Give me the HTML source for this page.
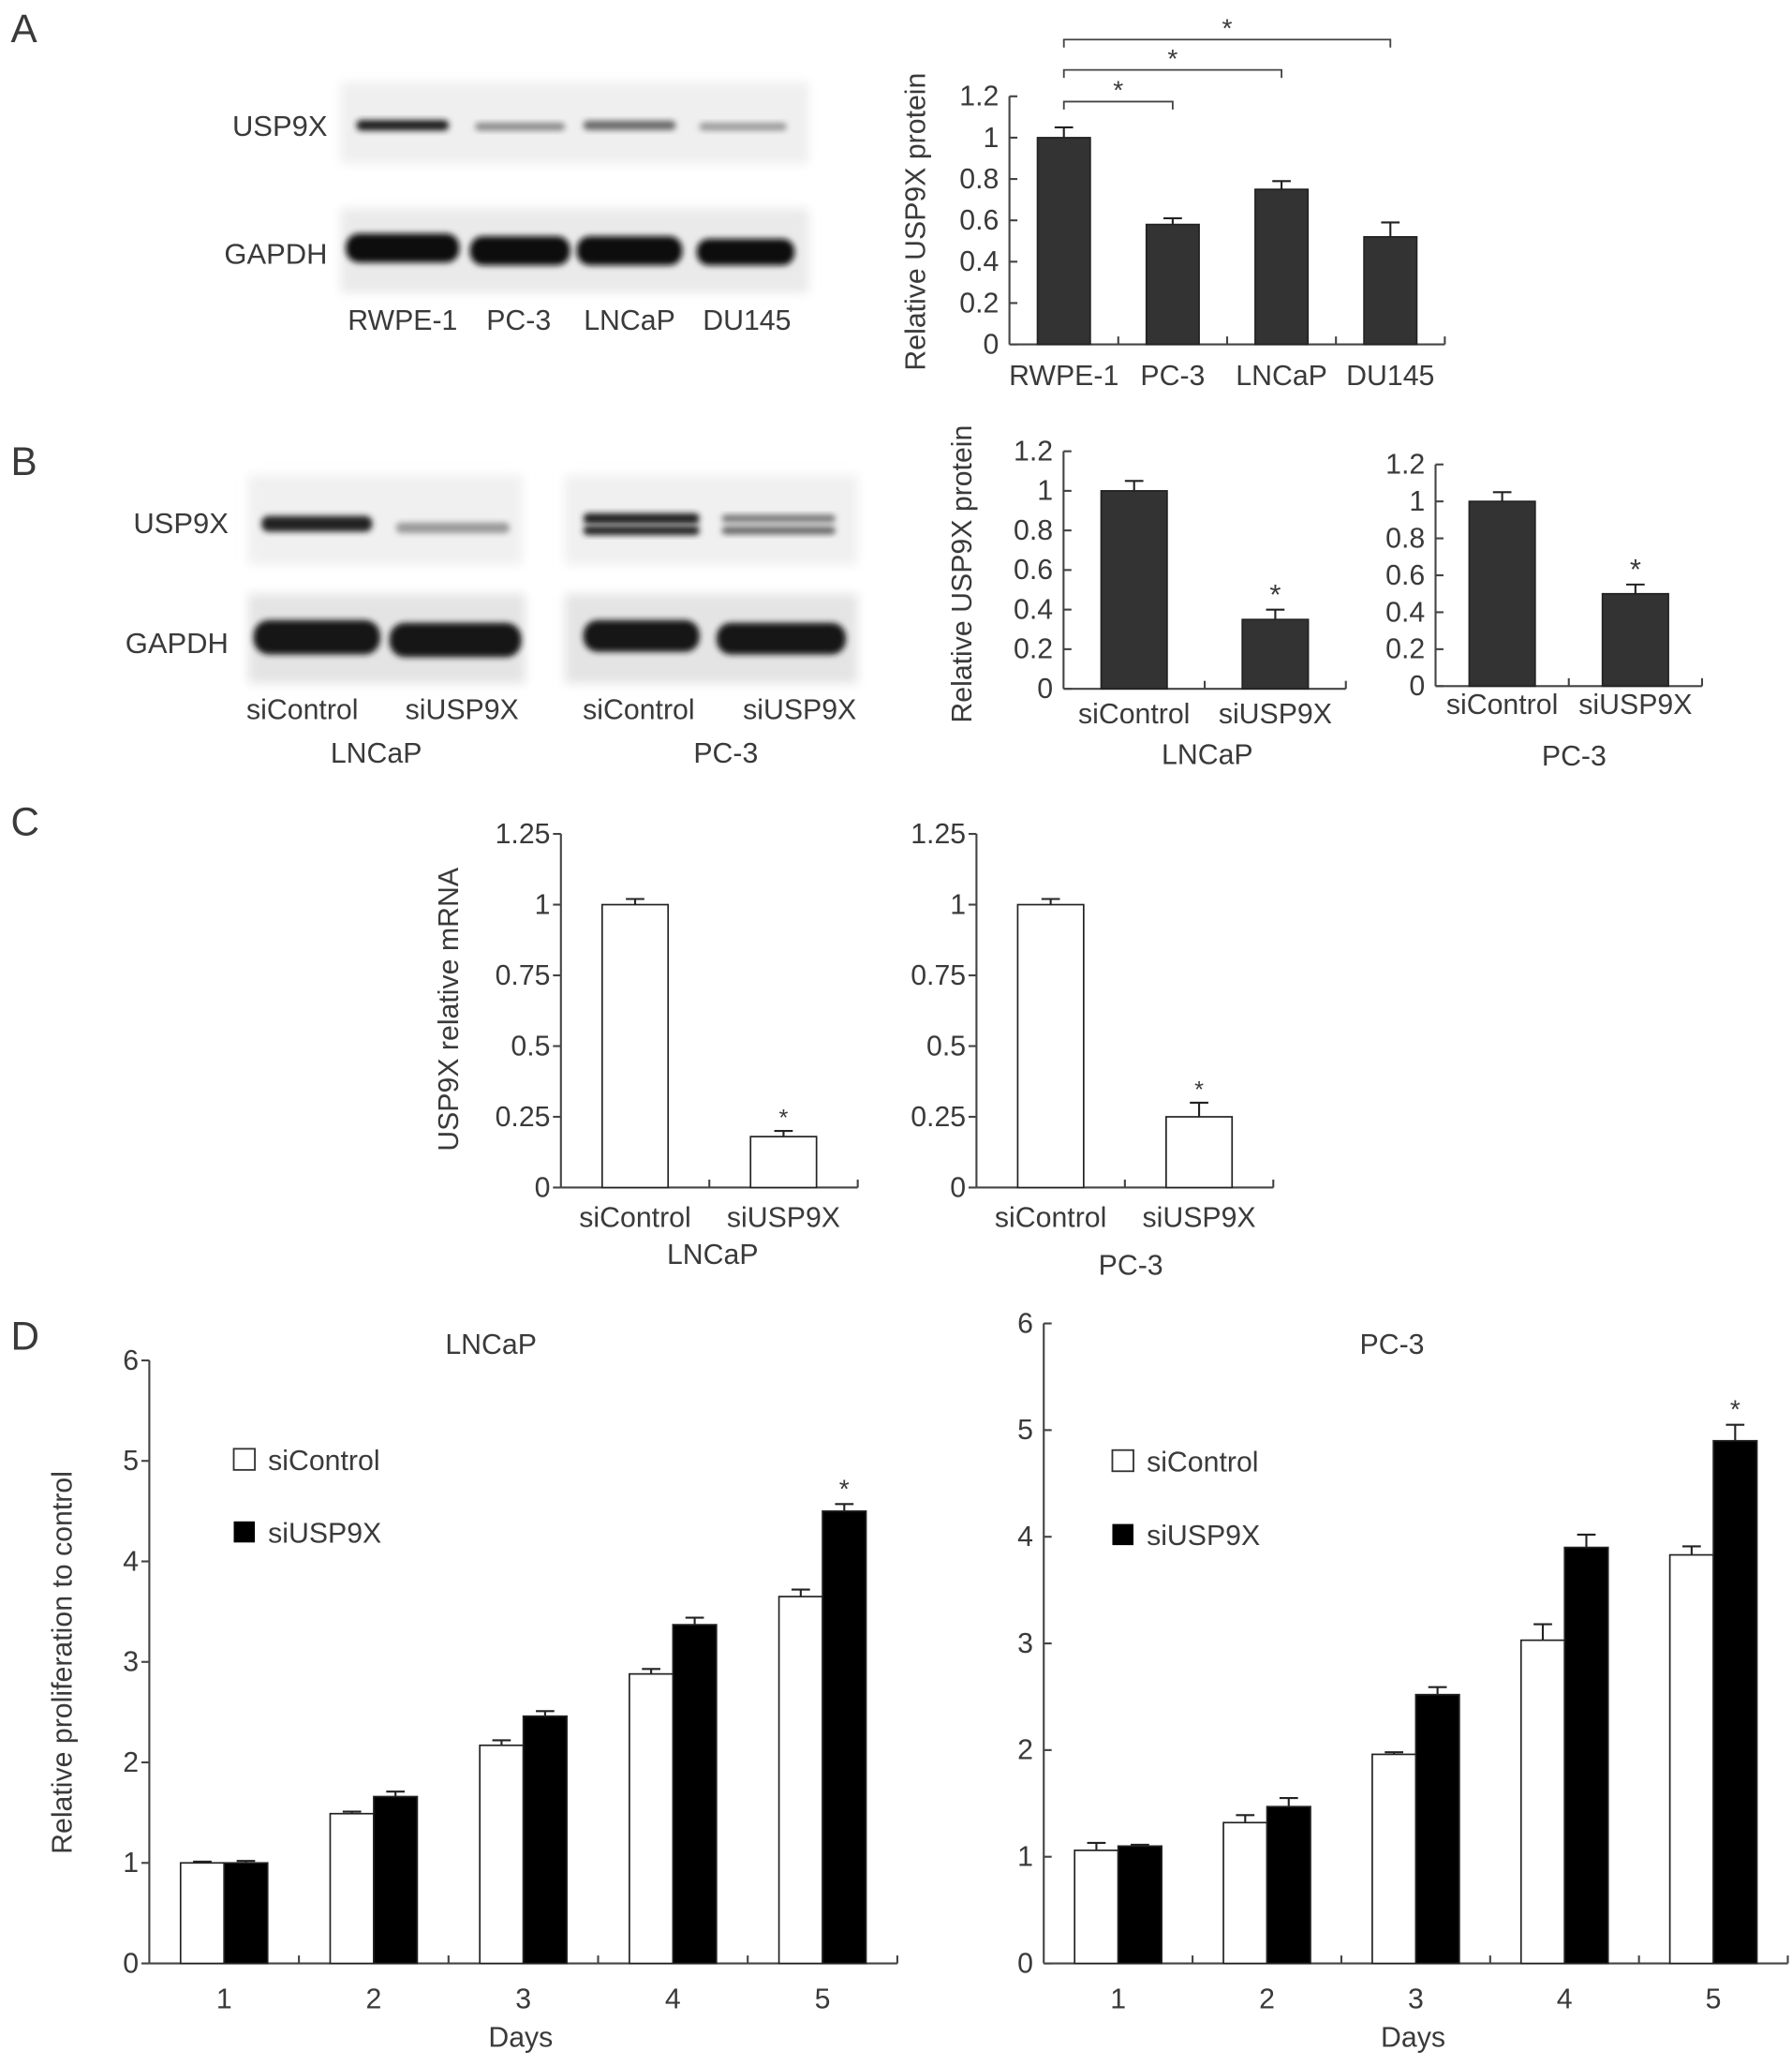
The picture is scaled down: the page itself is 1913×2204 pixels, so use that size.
<!DOCTYPE html>
<html><head><meta charset="utf-8"><style>
html,body{margin:0;padding:0;background:#fff;}
svg{display:block;font-family:"Liberation Sans",Arial,sans-serif;}
text{fill:#3a3a3a;}
</style></head>
<body>
<svg id="fig" xmlns="http://www.w3.org/2000/svg" width="1913" height="2204" viewBox="0 0 1358 1565">
<defs>
<filter id="blur" x="-20%" y="-50%" width="140%" height="200%"><feGaussianBlur stdDeviation="2.2"/></filter>
<filter id="blur2" x="-20%" y="-20%" width="140%" height="140%"><feGaussianBlur stdDeviation="4"/></filter>
</defs>
<g id="root"></g>
</svg>
<script>
// ===== Data =====
const aCats = ["RWPE-1","PC-3","LNCaP","DU145"];
const aVals = [1.0,0.58,0.75,0.52];
const aErrs = [0.05,0.03,0.04,0.07];
const aTicks = [0,0.2,0.4,0.6,0.8,1,1.2];
const aTickLabels = ["0","0.2","0.4","0.6","0.8","1","1.2"];

const bCats = ["siControl","siUSP9X"];
const b1Vals = [1.0,0.35];
const b1Errs = [0.05,0.05];
const b2Vals = [1.0,0.5];
const b2Errs = [0.05,0.05];

const cTicks = [0,0.25,0.5,0.75,1,1.25];
const cTickLabels = ["0","0.25","0.5","0.75","1","1.25"];
const c1Vals = [1.0,0.18];
const c1Errs = [0.02,0.02];
const c2Vals = [1.0,0.25];
const c2Errs = [0.02,0.05];

const dDays = ["1","2","3","4","5"];
const dTicks = [0,1,2,3,4,5,6];
const d1Ctrl = [1.0,1.49,2.17,2.88,3.65];
const d1CtrlErr = [0,0.02,0.05,0.05,0.07];
const d1Si = [1.0,1.66,2.46,3.37,4.5];
const d1SiErr = [0.02,0.05,0.05,0.07,0.07];
const d2Ctrl = [1.06,1.32,1.96,3.03,3.83];
const d2CtrlErr = [0.07,0.07,0.02,0.15,0.08];
const d2Si = [1.1,1.47,2.52,3.9,4.9];
const d2SiErr = [0,0.08,0.07,0.12,0.15];

// ===== helpers =====
const NS="http://www.w3.org/2000/svg";
const root=document.getElementById('root');
const FS=21.5;
function el(tag,attrs,parent){const e=document.createElementNS(NS,tag);for(const k in attrs)e.setAttribute(k,attrs[k]);(parent||root).appendChild(e);return e;}
function txt(s,x,y,size,anchor,parent,rot){const t=el('text',{x:x,y:y,'font-size':size,'text-anchor':anchor||'middle'},parent);if(rot)t.setAttribute('transform','rotate(-90 '+x+' '+y+')');t.textContent=s;return t;}
const AX='#444';

function axes(g,x0,x1,y0,yTop,ticks,labels,maxV,tickDir,boundaries){
  const sy=v=>y0-(v/maxV)*(y0-yTop);
  el('line',{x1:x0,y1:y0,x2:x0,y2:yTop,stroke:AX,'stroke-width':1.5},g);
  el('line',{x1:x0,y1:y0,x2:x1,y2:y0,stroke:AX,'stroke-width':1.5},g);
  ticks.forEach((t,i)=>{
    const y=sy(t);
    el('line',{x1:x0,y1:y,x2:x0+tickDir*6,y2:y,stroke:AX,'stroke-width':1.5},g);
    const lab=txt(labels[i],x0-8,y+7,FS,'end',g);
    
    
  });
  boundaries.forEach(b=>el('line',{x1:b,y1:y0,x2:b,y2:y0-6,stroke:AX,'stroke-width':1.5},g));
  return sy;
}
function bar(g,x,w,v,e,sy,fill,name){
  const r=el('rect',{x:x,y:sy(v),width:w,height:sy(0)-sy(v),fill:fill,stroke:'#222','stroke-width':1.2},g);
  
  
  const cx=x+w/2;
  if(e>0){
    el('line',{x1:cx,y1:sy(v),x2:cx,y2:sy(v+e),stroke:'#222','stroke-width':1.5},g);
    el('line',{x1:cx-7,y1:sy(v+e),x2:cx+7,y2:sy(v+e),stroke:'#222','stroke-width':1.5},g);
  } else {
    el('line',{x1:cx-7,y1:sy(v)-1,x2:cx+7,y2:sy(v)-1,stroke:'#222','stroke-width':1.5},g);
  }
}
function star(g,x,y,size){const s=txt('*',x,y,size||22,'middle',g);}
function panelLabel(s,x,y){const t=txt(s,x,y,30,'start');}

// ===== Panel labels =====
panelLabel('A',8,32);panelLabel('B',8,360);panelLabel('C',8,633);panelLabel('D',8,1023);

// ===== Blots =====
function blot(name,x,y,w,h,bands,bg){
  const g=el('g',{});
  
  
  el('rect',{x:x,y:y,width:w,height:h,fill:bg||'#ececec',filter:'url(#blur2)'},g);
  bands.forEach(b=>el('rect',{x:b[0]-b[2]/2,y:b[1]-b[3]/2,width:b[2],height:b[3],rx:b[3]/2.2,fill:b[4],filter:'url(#blur)'},g));
}
blot('usp9x-blot-a',258,62,355,62,[[305,95,70,8,'#1e1e1e'],[394,96,68,6,'#888'],[477,95,70,7,'#666'],[563,96,66,6,'#999']],'#efefef');
blot('gapdh-blot-a',258,158,355,64,[[305,188,86,22,'#111'],[394,190,76,22,'#111'],[477,190,80,22,'#111'],[565,191,74,20,'#111']],'#eaeaea');
[['USP9X',248,103],['GAPDH',248,200]].forEach(a=>{const t=txt(a[0],a[1],a[2],22,'end');});
[['RWPE-1',305],['PC-3',393],['LNCaP',477],['DU145',566]].forEach(a=>{const t=txt(a[0],a[1],250,FS);});

blot('usp9x-blot-lncap',188,360,208,68,[[240,397,84,12,'#222'],[343,400,86,8,'#999']],'#f0f0f0');
blot('gapdh-blot-lncap',188,450,210,68,[[240,483,96,26,'#141414'],[345,485,100,26,'#141414']],'#e4e4e4');
blot('usp9x-blot-pc3',428,360,222,68,[[486,393,88,8,'#1a1a1a'],[486,402,88,7,'#222'],[590,393,86,6,'#777'],[590,402,86,6,'#666']],'#f0f0f0');
blot('gapdh-blot-pc3',428,450,222,68,[[486,482,88,24,'#141414'],[592,484,98,24,'#141414']],'#e4e4e4');
[['USP9X',173,404],['GAPDH',173,495]].forEach(a=>{const t=txt(a[0],a[1],a[2],22,'end');});
[['siControl',229],['siUSP9X',350],['siControl',484],['siUSP9X',606]].forEach(a=>{const t=txt(a[0],a[1],545,FS);});
[['LNCaP',285],['PC-3',550]].forEach(a=>{const t=txt(a[0],a[1],578,FS);});

// ===== Chart A =====
(function(){
  const g=el('g',{});
  const x0=765,x1=1095,y0=261,yTop=73;
  const step=82.5;
  const bounds=aCats.map((c,i)=>x0+step*(i+1));
  const sy=axes(g,x0,x1,y0,yTop,aTicks,aTickLabels,1.2,1,bounds);
  aCats.forEach((c,i)=>{
    const cx=x0+step*i+step/2;
    bar(g,cx-20,40,aVals[i],aErrs[i],sy,'#333','bar-'+c.toLowerCase());
    const t=txt(c,cx,292,FS,'middle',g);
  });
  const yl=txt('Relative USP9X protein',701,168,FS,'middle',g,true);
  const c0=x0+step/2;
  [[1,77],[2,53],[3,30]].forEach(p=>{
    const cx=x0+step*p[0]+step/2;
    el('path',{d:`M${c0} ${p[1]+6}V${p[1]}H${cx}V${p[1]+6}`,fill:'none',stroke:AX,'stroke-width':1.3},g);
    star(g,(c0+cx)/2,p[1]-2,20);
  });
})();

// ===== Chart B =====
function chartB(name,x0,x1,y0,yTop,vals,errs,labelY,lineName,lineX,lineY){
  const g=el('g',{});
  const step=(x1-x0)/2;
  const sy=axes(g,x0,x1,y0,yTop,aTicks,aTickLabels,1.2,1,[x0+step,x1]);
  bCats.forEach((c,i)=>{
    const cx=x0+step*i+step/2;
    bar(g,cx-25,50,vals[i],errs[i],sy,'#333','bar-'+c.toLowerCase());
    const t=txt(c,cx,labelY,FS,'middle',g);
    if(i===1)star(g,cx,sy(vals[i]+errs[i])-4,22);
  });
  const t=txt(lineName,lineX,lineY,FS,'middle',g);
}
chartB('chart-b-lncap',806,1020,522,342,b1Vals,b1Errs,548,'LNCaP',915,579);
chartB('chart-b-pc3',1088,1290,520,352,b2Vals,b2Errs,541,'PC-3',1193,580);
{const yl=txt('Relative USP9X protein',736,435,FS,'middle',null,true);}

// ===== Chart C =====
function chartC(name,x0,x1,vals,errs,lineName,lineX,lineY){
  const g=el('g',{});
  const y0=900,yTop=632;
  const step=(x1-x0)/2;
  const sy=axes(g,x0,x1,y0,yTop,cTicks,cTickLabels,1.25,-1,[x0+step,x1]);
  bCats.forEach((c,i)=>{
    const cx=x0+step*i+step/2;
    bar(g,cx-25,50,vals[i],errs[i],sy,'#fff','bar-'+c.toLowerCase());
    const t=txt(c,cx,930,FS,'middle',g);
    if(i===1)star(g,cx,sy(vals[i]+errs[i])-4,18);
  });
  const t=txt(lineName,lineX,lineY,FS,'middle',g);
}
chartC('chart-c-lncap',425,650,c1Vals,c1Errs,'LNCaP',540,958);
chartC('chart-c-pc3',740,965,c2Vals,c2Errs,'PC-3',857,966);
{const yl=txt('USP9X relative mRNA',347,765,FS,'middle',null,true);}

// ===== Chart D =====
function chartD(name,x0,x1,yTop,tickDir,ctrl,ctrlE,si,siE,title,titleX,legX,legY1,legY2){
  const g=el('g',{});
  const y0=1488;
  const step=(x1-x0)/5;
  const bounds=dDays.map((d,i)=>x0+step*(i+1));
  const sy=axes(g,x0,x1,y0,yTop,dTicks,dTicks.map(String),6,tickDir,bounds);
  dDays.forEach((d,i)=>{
    const cx=x0+step*i+step/2;
    bar(g,cx-33,33,ctrl[i],ctrlE[i],sy,'#fff','bar-sicontrol-day'+d);
    bar(g,cx,33,si[i],siE[i],sy,'#000','bar-siusp9x-day'+d);
    const t=txt(d,cx,1522,FS,'middle',g);
  });
  const last=dDays.length-1;
  star(g,x0+step*last+step/2+16.5,sy(si[last]+siE[last])-5,20);
  const tt=txt(title,titleX,1026,FS,'middle',g);
  const xt=txt('Days',(x0+x1)/2-2,1551,FS,'middle',g);
  const lg=el('g',{},g);
  el('rect',{x:legX,y:legY1-8,width:16,height:16,fill:'#fff',stroke:'#333','stroke-width':1.3},lg);
  const l1=txt('siControl',legX+26,legY1+8,FS,'start',lg);
  el('rect',{x:legX,y:legY2-8,width:16,height:16,fill:'#000'},lg);
  const l2=txt('siUSP9X',legX+26,legY2+8,FS,'start',lg);
}
chartD('chart-d-lncap',113,680,1031,-1,d1Ctrl,d1CtrlErr,d1Si,d1SiErr,'LNCaP',372,177,1106,1161);
chartD('chart-d-pc3',791,1355,1003,1,d2Ctrl,d2CtrlErr,d2Si,d2SiErr,'PC-3',1055,843,1107,1163);
{const yl=txt('Relative proliferation to control',54,1260,FS,'middle',null,true);}
</script>
</body></html>
